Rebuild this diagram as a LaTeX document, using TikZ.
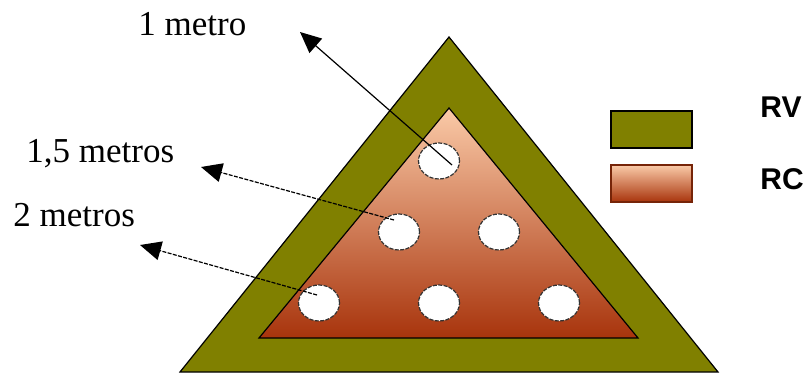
\documentclass[tikz,border=0pt]{standalone}
\usepackage{fontspec}
\setmainfont{Liberation Serif}
\newfontfamily\legendfont{Liberation Sans}
\usetikzlibrary{arrows.meta,shapes.geometric}

\definecolor{rvgreen}{RGB}{128,128,0}
\definecolor{rctop}{RGB}{250,202,168}
\definecolor{rcmid}{RGB}{216,136,96}
\definecolor{rcbot}{RGB}{168,52,12}

\begin{document}
\begin{tikzpicture}[x=0.5pt, y=-0.5pt,
  every node/.style={font=\fontsize{17.5}{20}\selectfont},
  hole/.style={ellipse, draw=black!80, dash pattern=on 2pt off 0.7pt, line width=0.6pt,
    fill=white, minimum width=20.5pt, minimum height=18pt, inner sep=0pt},
  pointer/.style={-{Triangle[length=10.5pt, width=9.5pt]}, line width=0.6pt},
  legendlbl/.style={anchor=base west, font=\legendfont\bfseries\fontsize{15}{18}\selectfont}]

  \useasboundingbox (0,0) rectangle (807,374);

  %% Triangle: outer band (RV) and inner core (RC)
  \draw[fill=rvgreen, line width=0.6pt] (449,37) -- (718,372) -- (180,372) -- cycle;
  \shade[top color=rctop, middle color=rcmid, bottom color=rcbot]
    (449,108) -- (638,338) -- (259,338) -- cycle;
  \draw[line width=0.6pt] (449,108) -- (638,338) -- (259,338) -- cycle;

  % Holes
  \node[hole] (holeA) at (439,161) {};
  \node[hole] (holeB) at (399,232) {};
  \node[hole] (holeC) at (499,232) {};
  \node[hole] (holeD) at (319,303) {};
  \node[hole] (holeE) at (439,303) {};
  \node[hole] (holeF) at (559,303) {};

  %% Depth labels
  \node[anchor=base west, inner sep=0pt] (lblOne) at (138,36) {1 metro};
  \node[anchor=base west, inner sep=0pt] (lblOneHalf) at (26,162) {1,5 metros};
  \node[anchor=base west, inner sep=0pt] (lblTwo) at (13,226) {2 metros};

  % Arrows from the holes
  \coordinate (srcA) at (452,165);
  \coordinate (tipA) at (300,32);
  \coordinate (srcB) at (394,220);
  \coordinate (tipB) at (201,167);
  \coordinate (srcD) at (317,295);
  \coordinate (tipD) at (140,245);
  \draw[pointer] (srcA) -- (tipA);
  \draw[pointer, dash pattern=on 2pt off 0.7pt] (srcB) -- (tipB);
  \draw[pointer, dash pattern=on 2pt off 0.7pt] (srcD) -- (tipD);

  %% Legend
  \draw[fill=rvgreen, line width=0.6pt] (611,111) rectangle (692,148);
  \shade[top color=rctop, middle color=rcmid!85!gray, bottom color=rcbot]
    (611,165) rectangle (692,202);
  \draw[draw=rcbot!70!black, line width=0.6pt] (611,165) rectangle (692,202);
  \node[legendlbl, inner sep=0pt] (lblRV) at (760,118) {RV};
  \node[legendlbl, inner sep=0pt] (lblRC) at (760,189) {RC};
\end{tikzpicture}
\end{document}
